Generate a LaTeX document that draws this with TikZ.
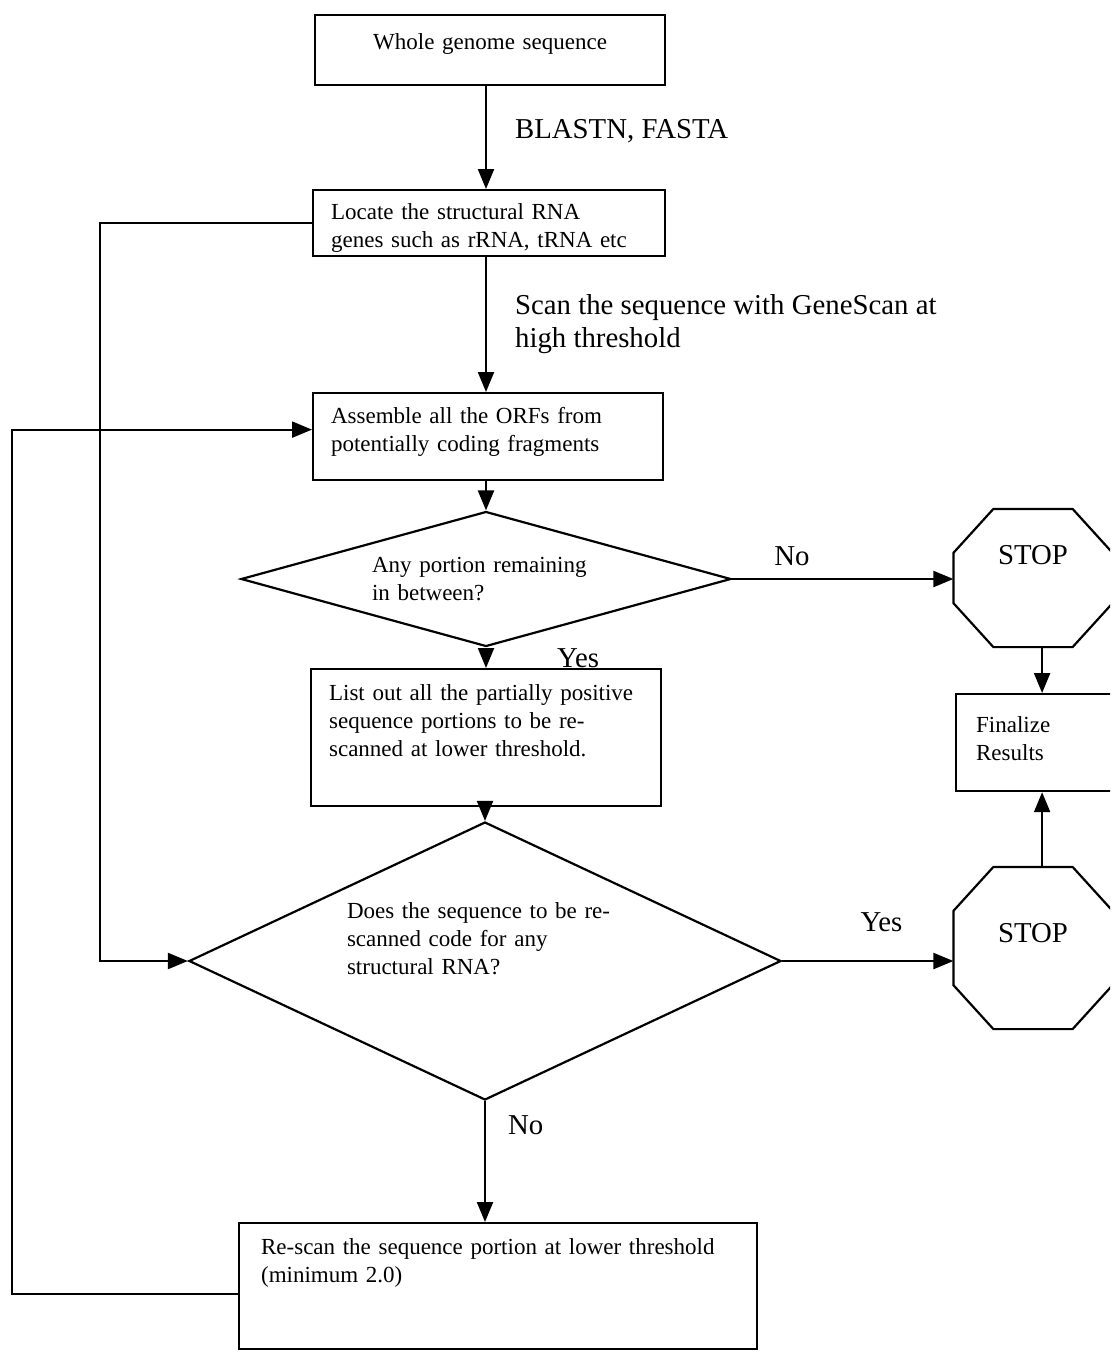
\documentclass[tikz,border=0pt]{standalone}
\usepackage{fontspec}
\setmainfont{Liberation Serif}
\usetikzlibrary{arrows.meta, shapes.geometric}

\newcommand{\boxfont}{\fontsize{11.5}{14}\selectfont}
\newcommand{\labelfont}{\fontsize{14.4}{16.5}\selectfont}

\begin{document}
\begin{tikzpicture}[
    x=0.5pt, y=-0.5pt,
    line width=1.1pt,
    stepbox/.style={rectangle, draw, anchor=north west, inner ysep=0pt, inner xsep=9pt, align=left, font=\boxfont},
    decision/.style={diamond, draw, inner sep=0pt, align=left, font=\boxfont, text height=9pt},
    stopsign/.style={rectangle, inner sep=0pt, minimum width=78.5pt, font=\labelfont, text height=10pt},
    octline/.style={draw, line width=1.1pt},
    arrow/.style={-{Triangle[length=10pt, width=8pt]}},
    edgelabel/.style={font=\labelfont, inner sep=0pt}
]

% frame
\useasboundingbox (0,0) rectangle (1110,1351);
\clip (0,0) rectangle (1110,1351);

% main column
\node[stepbox, inner xsep=0pt, text width=175pt, align=center, text height=17pt, text depth=18pt] (genome) at (314,14) {Whole genome sequence};
\node[stepbox, text width=158pt, text height=14.5pt, text depth=18.5pt] (locate) at (312,189) {Locate the structural RNA\\genes such as rRNA, tRNA etc};
\node[stepbox, text width=157pt, text height=15pt, text depth=28.5pt] (assemble) at (312,392) {Assemble all the ORFs from\\potentially coding fragments};
\node[decision, text width=114pt, text depth=16pt, minimum width=245pt, minimum height=67.5pt, aspect=3.63] (d1) at (486,579) {Any portion remaining\\in between?};
\node[stepbox, text width=157pt, text height=15.5pt, text depth=53pt] (listout) at (310,668) {List out all the partially positive\\sequence portions to be re-\\scanned at lower threshold.};
\node[decision, text width=138pt, text depth=52pt, minimum width=296pt, minimum height=139pt, aspect=2.13] (d2) at (485,961) {Does the sequence to be re-\\scanned code for any\\structural RNA?};
\node[stepbox, inner xsep=11pt, text width=237pt, text height=15.5pt, text depth=47.5pt] (rescan) at (238,1222) {Re-scan the sequence portion at lower threshold\\(minimum 2.0)};

% right column
\node[stopsign, minimum height=68pt, text depth=23.4pt] (stop1) at (1033,578) {STOP};
\node[stepbox, inner xsep=10pt, text width=66pt, text height=19pt, text depth=29.5pt] (final) at (955,693) {Finalize\\Results};
\node[stopsign, minimum height=80pt, text depth=15.4pt] (stop2) at (1033,948) {STOP};

% octagons
\foreach \s in {stop1, stop2}
  \draw[octline] ([xshift=20pt]\s.north west) -- ([xshift=-20pt]\s.north east)
    -- ([yshift=-22pt]\s.north east) -- ([yshift=22pt]\s.south east)
    -- ([xshift=-20pt]\s.south east) -- ([xshift=20pt]\s.south west)
    -- ([yshift=22pt]\s.south west) -- ([yshift=-22pt]\s.north west) -- cycle;

% arrows
\draw[arrow] (genome.south -| d1.north) -- node[edgelabel, right=14pt, yshift=3pt] {BLASTN, FASTA} (locate.north -| d1.north);
\draw[arrow] (locate.south -| d1.north) -- node[edgelabel, right=14pt, align=left] {Scan the sequence with GeneScan at\\high threshold} (assemble.north -| d1.north);
\draw[arrow] (assemble.south -| d1.north) -- (d1.north);
\draw[arrow] (d1.east) -- node[edgelabel, pos=0.27, above=6pt] {No} (d1.east -| stop1.west);
\draw[arrow] (d1.south) -- node[edgelabel, right=35pt] {Yes} (d1.south |- listout.north);
\draw[arrow] (listout.south -| d2.north) -- (d2.north);
\draw[arrow] (d2.east) -- node[edgelabel, pos=0.58, above=14pt] {Yes} (d2.east -| stop2.west);
\draw[arrow] (d2.south) -- node[edgelabel, pos=0.2, right=11pt] {No} (d2.south |- rescan.north);
\draw[arrow] (stop1.south -| final.north) -- (final.north);
\draw[arrow] (stop2.north -| final.south) -- (final.south);

% feedback loops
\draw[arrow] (locate.west) -- ++(-212,0) |- (d2.west);
\draw[arrow] ([yshift=-4pt]rescan.west) -- ++(-226,0) |- ([yshift=3.5pt]assemble.west);
\end{tikzpicture}
\end{document}
